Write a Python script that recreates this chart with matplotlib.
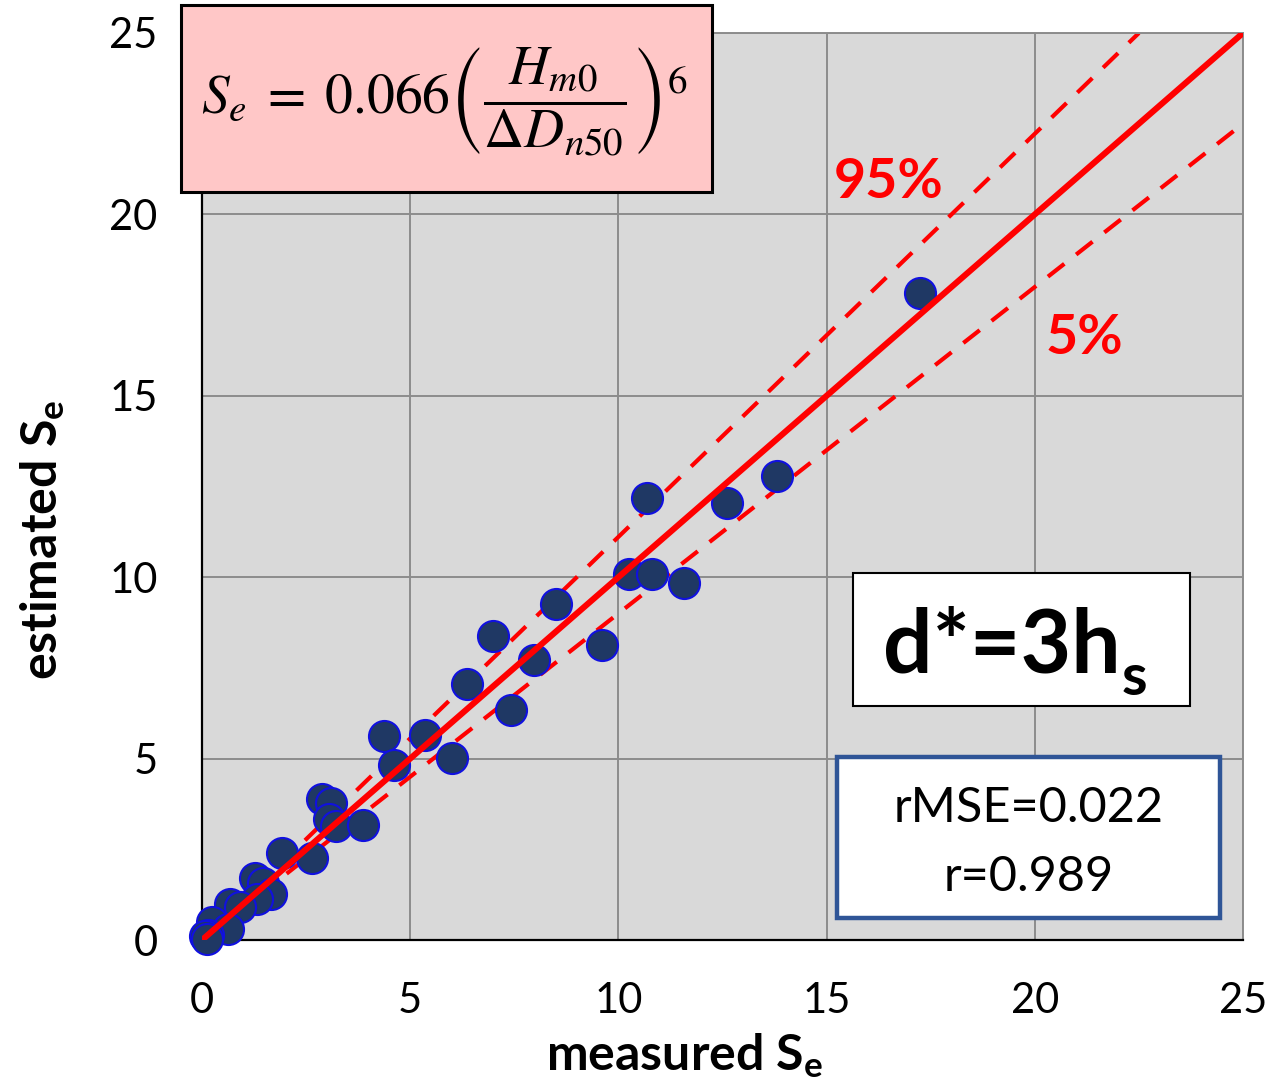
import matplotlib
matplotlib.use("Agg")
import matplotlib.pyplot as plt
from matplotlib.patches import Rectangle

plt.rcParams['font.family'] = ['Lato', 'DejaVu Sans']
plt.rcParams['mathtext.fontset'] = 'custom'
plt.rcParams['mathtext.rm'] = 'Lato'
plt.rcParams['mathtext.it'] = 'Lato:italic'
plt.rcParams['mathtext.bf'] = 'Lato:bold'

# measured vs estimated Se
measured = [17.24, 13.82, 12.62, 10.68, 10.26, 10.81, 11.58, 8.49, 7.00, 9.60,
            7.97, 6.36, 7.42, 5.36, 6.00, 4.37, 4.60, 2.87, 3.09, 3.05,
            3.21, 3.86, 1.93, 2.65, 1.27, 1.47, 1.65, 1.31, 0.67, 0.91,
            0.23, 0.63, 0.15, 0.08, 0.12]
estimated = [17.84, 12.79, 12.05, 12.19, 10.09, 10.08, 9.83, 9.25, 8.38, 8.13,
             7.72, 7.07, 6.34, 5.65, 5.01, 5.62, 4.82, 3.88, 3.77, 3.33,
             3.14, 3.17, 2.41, 2.25, 1.70, 1.58, 1.27, 1.12, 1.00, 0.92,
             0.50, 0.30, 0.14, 0.10, 0.02]

ticks = [0, 5, 10, 15, 20, 25]
band = 0.9  # 5% / 95% lines

fig = plt.figure(figsize=(12.76, 10.85), dpi=100)
ax = fig.add_axes([202/1276, 1 - 940/1085, 1041/1276, 907/1085])
ax.set_facecolor('#D9D9D9')
ax.set_xlim(0, 25)
ax.set_ylim(0, 25)
ax.set_xticks(ticks)
ax.set_yticks(ticks)
ax.grid(True, color='#8C8C8C', lw=1.4)
ax.set_axisbelow(True)
ax.tick_params(length=0, labelsize=30, colors='black')
ax.tick_params(axis='x', pad=30)
ax.tick_params(axis='y', pad=32)
for s in ['top', 'right']:
    ax.spines[s].set_color('#8C8C8C')
    ax.spines[s].set_linewidth(1.4)
for s in ['left', 'bottom']:
    ax.spines[s].set_color('black')
    ax.spines[s].set_linewidth(1.6)

# 5% and 95% bands
ax.plot([0, 25 * band], [0, 25], color='red', lw=3.0, ls=(0, (5, 3.6)), zorder=2)
ax.plot([0, 25], [0, 25 * band], color='red', lw=3.0, ls=(0, (5, 3.6)), zorder=2)

ax.scatter(measured, estimated, s=500, color='#1F3864', edgecolors='#1010E0',
           linewidths=1.5, zorder=3, clip_on=False)

ax.plot([0, 25], [0, 25], color='red', lw=4.4, zorder=4)

ax.text(16.5, 20.9, '95%', color='#FF0000', fontsize=40, fontweight='bold',
        ha='center', va='center')
ax.text(21.2, 16.6, '5%', color='#FF0000', fontsize=40, fontweight='bold',
        ha='center', va='center')

ax.set_xlabel(r'measured $\mathbf{S_e}$', fontsize=36, fontweight='bold')
ax.set_ylabel(r'estimated $\mathbf{S_e}$', fontsize=36, fontweight='bold')
ax.xaxis.set_label_coords(0.464, -0.1)
ax.yaxis.set_label_coords(-0.13, 0.441)

# d* box
ax.add_patch(Rectangle((15.63, 6.45), 8.10, 3.67, facecolor='white',
                       edgecolor='black', lw=1.5, zorder=5))
main = ax.text(16.35, 7.36, 'd*=3h', fontsize=63, fontweight='bold',
               ha='left', va='baseline', zorder=6)
ax.annotate('s', xy=(1, 0), xycoords=main, xytext=(1, -12),
            textcoords='offset points', fontsize=42, fontweight='bold',
            ha='left', va='bottom', zorder=6)

# stats box
ax.add_patch(Rectangle((15.25, 0.61), 9.20, 4.43, facecolor='white',
                       edgecolor='#2F5597', lw=3.2, zorder=5))
ax.text(19.85, 2.68, 'rMSE=0.022\nr=0.989', fontsize=35, ha='center',
        va='center', linespacing=1.7, zorder=6)

# formula box
fig.patches.append(Rectangle((181/1276, 1 - 192/1085), 531/1276, 187/1085,
                             transform=fig.transFigure, facecolor='#FFC7C7',
                             edgecolor='black', lw=2.2, zorder=5))
fig.text(445/1276, 1 - 102/1085,
         r'$S_e\;=\;0.066\left(\dfrac{H_{m0}}{\Delta D_{n50}}\right)^6$',
         fontsize=40, math_fontfamily='stix', ha='center', va='center', zorder=6)

fig.savefig('out.png', dpi=100)
